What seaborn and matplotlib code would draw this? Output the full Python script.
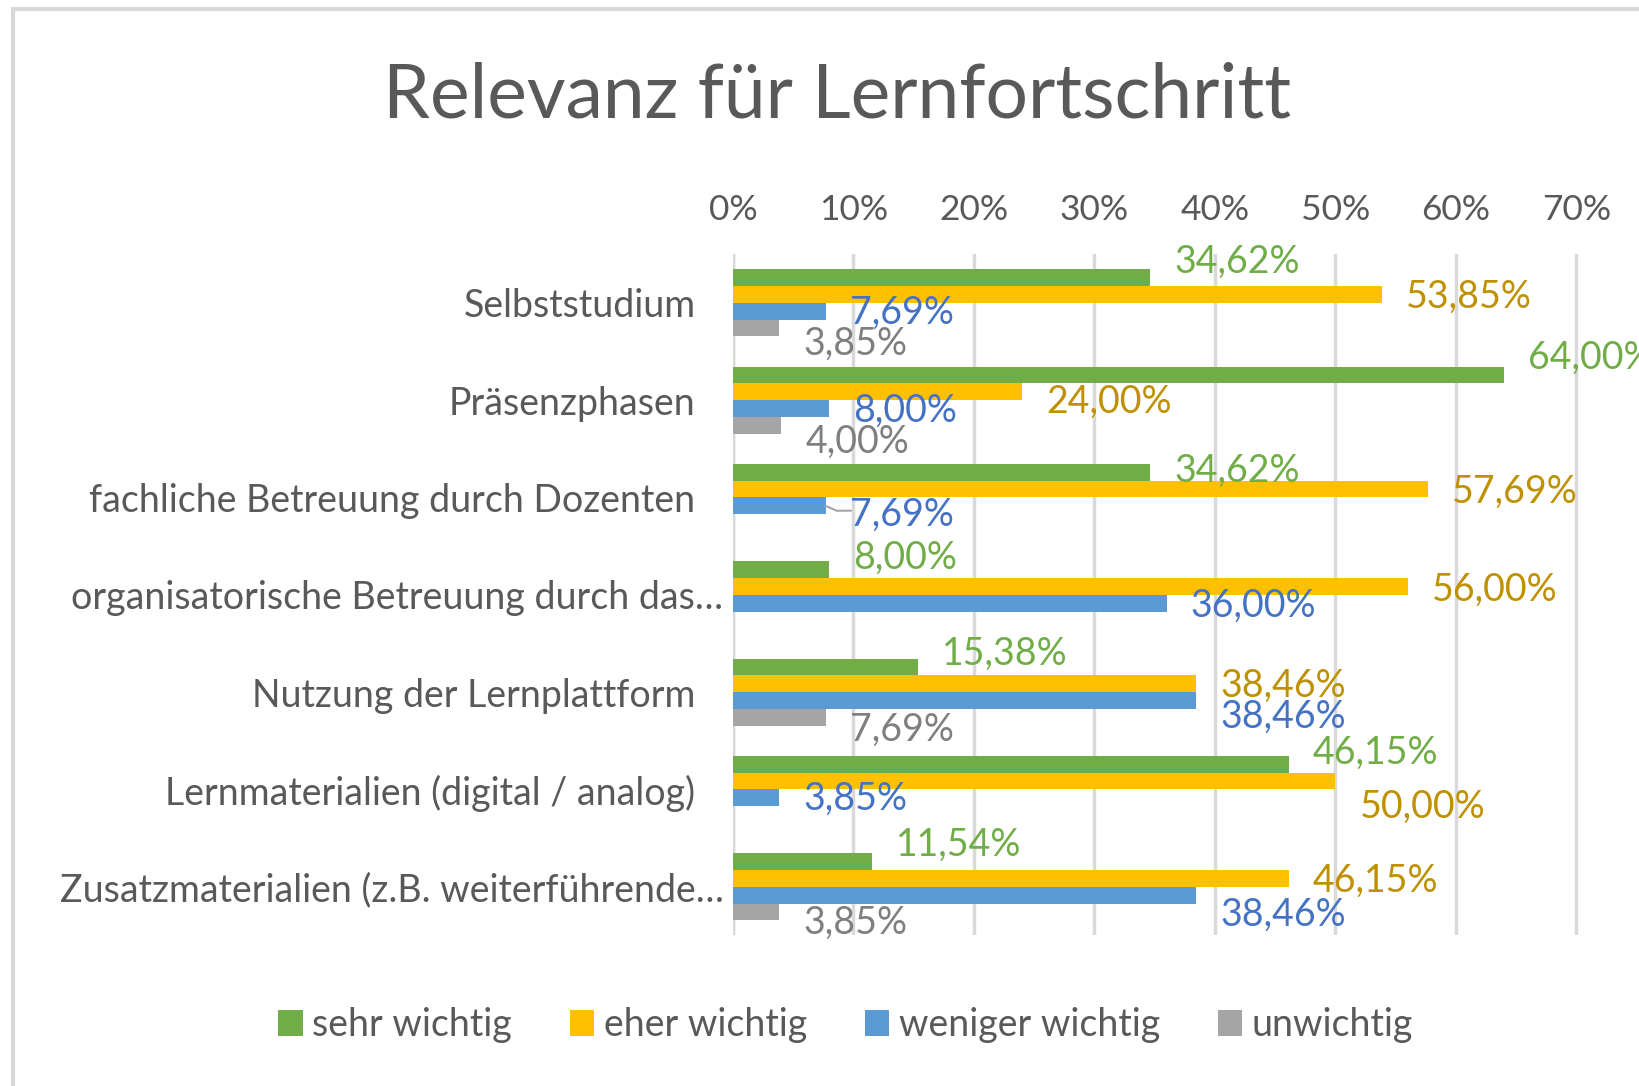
import numpy as np
import pandas as pd
import matplotlib
matplotlib.use("Agg")
import matplotlib.pyplot as plt
from matplotlib.patches import Rectangle, Patch
import seaborn as sns

categories = [
    "Selbststudium",
    "Präsenzphasen",
    "fachliche Betreuung durch Dozenten",
    "organisatorische Betreuung durch das…",
    "Nutzung der Lernplattform",
    "Lernmaterialien (digital / analog)",
    "Zusatzmaterialien (z.B. weiterführende…",
]
series = ["sehr wichtig", "eher wichtig", "weniger wichtig", "unwichtig"]
sehr_wichtig = [34.62, 64.00, 34.62, 8.00, 15.38, 46.15, 11.54]
eher_wichtig = [53.85, 24.00, 57.69, 56.00, 38.46, 50.00, 46.15]
weniger_wichtig = [7.69, 8.00, 7.69, 36.00, 38.46, 3.85, 38.46]
unwichtig = [3.85, 4.00, 0, 0, 7.69, 0, 3.85]
x_ticks = [0, 10, 20, 30, 40, 50, 60, 70]

bar_colors = ["#70AD47", "#FFC000", "#5B9BD5", "#A5A5A5"]
label_colors = ["#70AD47", "#BF9000", "#4472C4", "#7F7F7F"]
# vertical shifts of the data labels (category units), as placed in the original
label_dy = [
    [-0.16, -0.18, -0.02, -0.12, -0.14, -0.12, -0.17],
    [0.02, 0.10, 0.03, 0.03, 0.02, 0.26, 0.02],
    [0.02, 0.02, 0.09, 0.03, 0.17, 0.01, 0.20],
    [0.16, 0.17, 0.0, 0.0, 0.13, 0.0, 0.11],
]

df = pd.DataFrame({
    "Kategorie": categories * 4,
    "Serie": np.repeat(series, len(categories)),
    "Wert": sehr_wichtig + eher_wichtig + weniger_wichtig + unwichtig,
})

sns.set_style("white")
plt.rcParams["font.family"] = ["Lato", "DejaVu Sans"]

fig = plt.figure(figsize=(16.39, 10.86), dpi=100)
ax = fig.add_axes([0.4472, 0.1386, 0.5528, 0.6274])

bar_h = 0.172
for i, s in enumerate(series):
    sub = df[df["Serie"] == s]
    ypos = np.arange(len(categories)) + (i - 1.5) * bar_h
    vals = sub["Wert"].values
    mask = vals > 0
    ax.barh(ypos[mask], vals[mask], height=bar_h, color=bar_colors[i],
            linewidth=0, zorder=3)
    for j, v in enumerate(vals):
        if v <= 0:
            continue
        ax.text(v + 2.0, ypos[j] + label_dy[i][j], f"{v:.2f}%".replace(".", ","),
                color=label_colors[i], fontsize=27, va="center", ha="left", zorder=4)

# leader line for the moved label
ax.plot([7.69, 8.6, 9.8], [2 + 0.5 * bar_h, 2 + 0.5 * bar_h + 0.05, 2 + 0.5 * bar_h + 0.05],
        color="#A5A5A5", lw=1.5, zorder=4)

ax.set_xlim(0, 75.2)
ax.set_ylim(6.5, -0.5)
ax.set_xticks(x_ticks)
ax.set_xticklabels([f"{t}%" for t in x_ticks])
ax.xaxis.tick_top()
ax.set_yticks(range(len(categories)))
ax.set_yticklabels(categories)
ax.tick_params(axis="x", length=0, pad=20, labelsize=25.5, labelcolor="#595959")
ax.tick_params(axis="y", length=0, pad=27, labelsize=27, labelcolor="#595959")
for t in ax.get_yticklabels():
    if t.get_text().endswith("…"):
        t.set_x(0.031)
ax.grid(axis="x", color="#D9D9D9", lw=2.5, zorder=0)
for sp in ax.spines.values():
    sp.set_visible(False)
ax.axvline(0, color="#D9D9D9", lw=2.5, zorder=1)

fig.text(0.511, 0.912, "Relevanz für Lernfortschritt", ha="center", va="center",
         fontsize=54, color="#595959")

handles = [Patch(facecolor=c, edgecolor="none") for c in bar_colors]
fig.legend(handles, series, loc="center", bbox_to_anchor=(0.516, 0.056), ncol=4,
           frameon=False, fontsize=27, labelcolor="#595959", handlelength=0.65,
           handleheight=0.65, handletextpad=0.25, columnspacing=1.55)

fig.patches.append(Rectangle((13 / 1639, -0.1), 1.2, 1 - 9 / 1086 + 0.1,
                             transform=fig.transFigure, fill=False,
                             edgecolor="#D9D9D9", lw=3))

fig.savefig("out.png", dpi=100, facecolor="white")
